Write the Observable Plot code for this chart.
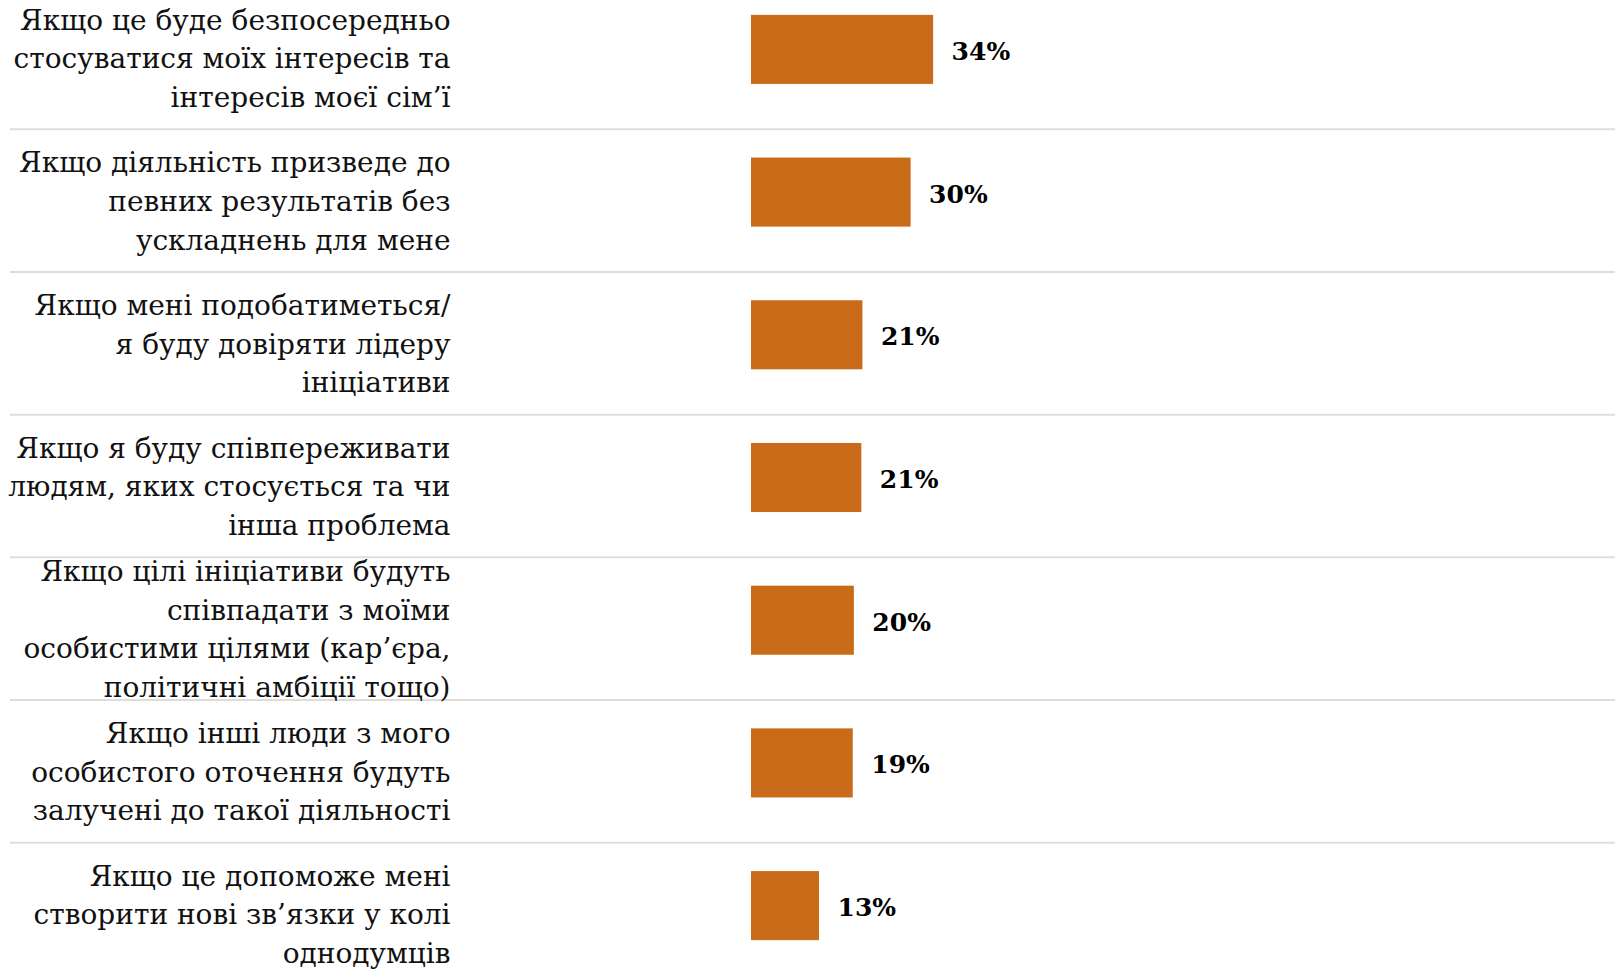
<!DOCTYPE html>
<html>
<head>
<meta charset="utf-8">
<script src="https://cdn.jsdelivr.net/npm/d3@7"></script>
<script src="https://cdn.jsdelivr.net/npm/@observablehq/plot@0.6"></script>
<style>
  html, body { margin: 0; padding: 0; background: #ffffff; }
  #chart { width: 1615px; height: 970px; overflow: hidden; }
</style>
</head>
<body>
<div id="chart"></div>
<script>
const categories = [
  "Якщо це буде безпосередньо\nстосуватися моїх інтересів та\nінтересів моєї сім’ї",
  "Якщо діяльність призведе до\nпевних результатів без\nускладнень для мене",
  "Якщо мені подобатиметься/\nя буду довіряти лідеру\nініціативи",
  "Якщо я буду співпереживати\nлюдям, яких стосується та чи\nінша проблема",
  "Якщо цілі ініціативи будуть\nспівпадати з моїми\nособистими цілями (кар’єра,\nполітичні амбіції тощо)",
  "Якщо інші люди з мого\nособистого оточення будуть\nзалучені до такої діяльності",
  "Якщо це допоможе мені\nстворити нові зв’язки у колі\nоднодумців"
];
const values = [34.0, 29.8, 20.8, 20.6, 19.2, 19.0, 12.7];
const valueLabels = ["34%", "30%", "21%", "21%", "20%", "19%", "13%"];

const data = categories.map((c, i) => ({label: c, value: values[i], text: valueLabels[i]}));

const W = 1615, H = 970;
const mTop = 0, mBottom = 15, mLeft = 751;
const padIn = 0.516, padOut = 0.104;
const step = (H - mTop - mBottom) / (categories.length - padIn + 2 * padOut);
const barColor = "#ca6b1a";
const ruleColor = "#e0ddd8";
const serif = "'DejaVu Serif', 'Liberation Serif', serif";

const chart = Plot.plot({
  width: W,
  height: H,
  marginLeft: mLeft,
  marginRight: 0,
  marginTop: mTop,
  marginBottom: mBottom,
  x: {domain: [0, 161.3], axis: null},
  y: {domain: categories, paddingInner: padIn, paddingOuter: padOut, round: false, axis: null},
  marks: [
    Plot.ruleY(categories.slice(0, -1), {
      y: d => d, dy: step / 2 + 8,
      stroke: ruleColor, strokeWidth: 2,
      insetLeft: -(mLeft - 10)
    }),
    Plot.barX(data, {x: "value", y: "label", fill: barColor}),
    Plot.text(data, {
      x: "value", y: "label", text: "text",
      textAnchor: "start", dx: 18, dy: 2,
      fontSize: 25, fontWeight: "bold", fontFamily: serif, fill: "#000"
    }),
    Plot.text(data, {
      x: 0, y: "label", text: "label",
      textAnchor: "end", dx: -(mLeft - 450), dy: 6,
      fontSize: 28, lineHeight: 1.38, fontFamily: serif, fill: "#111"
    })
  ]
});
document.getElementById("chart").appendChild(chart);
</script>
</body>
</html>
